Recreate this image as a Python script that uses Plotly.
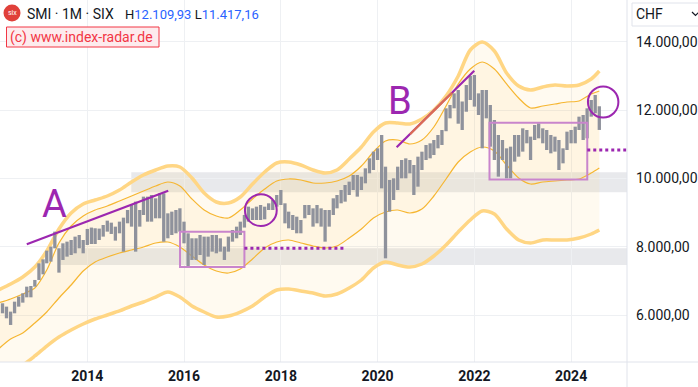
import plotly.graph_objects as go
import pandas as pd

# ---------------- DATA ----------------
bar_months = pd.date_range("2012-04-01", "2024-08-01", freq="MS").strftime("%Y-%m-%d").tolist()

bar_high = [
    # 2012 Apr-Dec
    6344, 6246, 6100, 6392, 6539, 6636, 6831, 6851, 7027,
    # 2013
    7514, 7631, 7885, 8002, 8441, 7953, 8099, 8148, 8197, 8295, 8343, 8197,
    # 2014
    8520, 8560, 8540, 8530, 8636, 8763, 8704, 8587, 8734, 8850, 9075, 9221,
    # 2015
    9319, 9075, 9465, 9465, 9514, 9416, 9562, 9562, 8977, 9026, 9075, 9124,
    # 2016
    8733, 8392, 8246, 8246, 8343, 8295, 8295, 8343, 8343, 8246, 8002, 8295,
    # 2017
    8490, 8587, 8733, 8930, 9172, 9123, 9172, 9221, 9172, 9270, 9367, 9513,
    # 2018
    9660, 9270, 9026, 8928, 8879, 8782, 9221, 9221, 9123, 9221, 9123, 9074,
    # 2019
    9074, 9416, 9513, 9660, 9806, 9904, 10099, 10099, 10050, 10294, 10587, 10782,
    # 2020
    10879, 11269, 10342, 9952, 10001, 10342, 10538, 10586, 10538, 10391, 10635, 10781,
    # 2021
    10976, 11025, 11123, 11269, 11415, 12050, 12147, 12488, 12586, 12250, 12732, 13000,
    # 2022
    13025, 12488, 12586, 12586, 12147, 11708, 11269, 11123, 10879, 10928, 11269, 11269,
    # 2023
    11464, 11416, 11221, 11562, 11611, 11464, 11416, 11269, 11221, 11123, 10879, 11367,
    # 2024 Jan-Aug
    11416, 11513, 11806, 11855, 12050, 12294, 12440, 12109.93,
]
bar_low = [
    6051, 5905, 5710, 6051, 6246, 6363, 6519, 6519, 6831,
    7027, 7192, 7514, 7563, 7953, 7241, 7612, 7709, 7758, 7807, 7953, 7807,
    8051, 8080, 8080, 8197, 8295, 8441, 8373, 8178, 8392, 7855, 8685, 8587,
    7855, 8587, 8928, 8733, 8733, 8831, 8831, 8148, 8246, 8343, 8392, 8441,
    8099, 7416, 7612, 7612, 7758, 7465, 7709, 7855, 7807, 7855, 7612, 7855,
    8148, 8246, 8343, 8560, 8733, 8782, 8782, 8782, 8801, 9074, 9074, 9172,
    9221, 8684, 8538, 8489, 8392, 8392, 8831, 8928, 8587, 8684, 8587, 8148,
    8587, 8928, 9123, 9270, 9318, 9513, 9660, 9465, 9660, 9855, 10148, 10245,
    10537, 9708, 7660, 9026, 9367, 9660, 10001, 10001, 10147, 9513, 9757, 10245,
    10538, 10586, 10684, 10879, 10976, 11380, 11757, 12050, 11600, 11415, 11950, 12293,
    12100, 11854, 10879, 11757, 10928, 10538, 10050, 10538, 10001, 10001, 10489, 10635,
    10782, 11026, 10538, 11123, 11172, 11026, 10830, 10733, 10782, 10245, 10440, 10830,
    11026, 11026, 11416, 11123, 11172, 11806, 11904, 11417.16,
]

band_months = [
    "2012-03-01", "2012-06-01", "2012-09-01", "2012-12-01",
    "2013-03-01", "2013-06-01", "2013-09-01", "2013-12-01",
    "2014-03-01", "2014-06-01", "2014-09-01", "2014-12-01",
    "2015-03-01", "2015-06-01", "2015-09-01", "2015-12-01",
    "2016-03-01", "2016-06-01", "2016-09-01", "2016-12-01",
    "2017-03-01", "2017-06-01", "2017-09-01", "2017-12-01",
    "2018-03-01", "2018-06-01", "2018-09-01", "2018-12-01",
    "2019-03-01", "2019-06-01", "2019-09-01", "2019-12-01",
    "2020-03-01", "2020-06-01", "2020-09-01", "2020-12-01",
    "2021-03-01", "2021-06-01", "2021-09-01", "2021-12-01",
    "2022-03-01", "2022-06-01", "2022-09-01", "2022-12-01",
    "2023-03-01", "2023-06-01", "2023-09-01", "2023-12-01",
    "2024-03-01", "2024-06-01", "2024-08-01",
]
outer_upper = [6733, 6909, 7114, 7406, 7874, 8518, 8987, 9250, 9367, 9484, 9660, 9894, 10099,
               10245, 10362, 10333, 10011, 9572, 9308, 9279, 9455, 9835, 10186, 10450, 10479,
               10391, 10245, 10157, 10245, 10567, 10918, 11357, 11620, 11620, 11591, 11737,
               12001, 12411, 12996, 13757, 13991, 13727, 13084, 12703, 12586, 12674, 12732,
               12703, 12732, 12908, 13142]
inner_upper = [6353, 6470, 6616, 6792, 7318, 8109, 8606, 8899, 9074, 9191, 9338, 9484, 9630,
               9777, 9894, 9777, 9396, 9074, 8899, 8840, 9074, 9396, 9689, 9923, 9982, 9952,
               9865, 9865, 9923, 10069, 10362, 10772, 11094, 11123, 11006, 11123, 11503, 12118,
               12762, 13201, 13406, 13201, 12762, 12352, 12059, 12118, 12176, 12235, 12264,
               12469, 12557]
inner_lower = [5007, 5299, 5475, 5767, 6089, 6499, 6879, 7289, 7553, 7699, 7816, 7904, 7992,
               8109, 8138, 7992, 7728, 7465, 7289, 7231, 7348, 7640, 7962, 8138, 8196, 8109,
               8021, 7962, 8021, 8255, 8518, 8840, 9016, 9074, 8987, 9104, 9484, 9982, 10479,
               10772, 10918, 10801, 10391, 10011, 9835, 9894, 9923, 9952, 9982, 10157, 10303]
outer_lower = [4158, 4363, 4538, 4802, 5094, 5358, 5563, 5738, 5884, 6002, 6119, 6265, 6382,
               6528, 6675, 6528, 6265, 6089, 5943, 5972, 6089, 6265, 6528, 6733, 6762, 6704,
               6645, 6558, 6616, 6792, 7026, 7377, 7553, 7465, 7406, 7494, 7728, 8050, 8431,
               8782, 9045, 8957, 8518, 8196, 8109, 8196, 8196, 8196, 8255, 8372, 8489]

# support / resistance zones (value ranges) and where they start
zone_upper_range = [9592, 10178]
zone_upper_start = "2014-11-29"
zone_lower_range = [7465, 7954]
zone_lower_start = "2013-05-25"

# drawings (dates, values)
line_a = [("2012-10-01", 8071), ("2015-09-04", 9639)]
line_b = [("2020-05-24", 10909), ("2021-12-31", 13151)]
line_b_orange = [("2020-09-02", 11293), ("2021-07-16", 12507)]
rect_1 = [("2015-12-02", 7406), ("2017-04-01", 8439)]
rect_2 = [("2022-04-25", 9964), ("2024-05-02", 11626)]
circle_1 = [("2017-04-05", 8606), ("2017-12-01", 9534)]
circle_2 = [("2024-05-07", 11781), ("2024-12-23", 12689)]
dotted_1 = [("2017-04-01", 7954), ("2019-04-30", 7954)]
dotted_2 = [("2024-05-02", 10830), ("2025-02-26", 10830)]
label_a = ("2013-04-25", 9250)
label_b = ("2020-06-16", 12273)

x_ticks = ["2014-01-01", "2016-01-01", "2018-01-01", "2020-01-01", "2022-01-01", "2024-01-01"]
x_tick_labels = ["2014", "2016", "2018", "2020", "2022", "2024"]
y_ticks = [6000, 8000, 10000, 12000, 14000]
y_tick_labels = ["6.000,00", "8.000,00", "10.000,00", "12.000,00", "14.000,00"]

x_range = ["2012-03-13", "2025-02-26"]
y_range = [4626, 15220]

# ---------------- LAYOUT HELPERS ----------------
W, H = 698, 387
ML, MR, MT, MB = 0, 71, 0, 25
PW, PH = W - ML - MR, H - MT - MB


def px(x):
    return x / PW


def py(y):
    return 1 - y / PH


FONT = "Roboto"
TXT = "#131722"
PURPLE = "#9c27b0"
THICK = "#ffd684"
THIN = "#f6b631"

fig = go.Figure()

# band fills + lines
fig.add_trace(go.Scatter(x=band_months, y=outer_lower, mode="lines",
                         line=dict(color=THICK, width=3.5, shape="spline", smoothing=0.8),
                         hoverinfo="skip", showlegend=False))
fig.add_trace(go.Scatter(x=band_months, y=outer_upper, mode="lines", fill="tonexty",
                         fillcolor="rgba(255,205,90,0.09)",
                         line=dict(color=THICK, width=3.5, shape="spline", smoothing=0.8),
                         hoverinfo="skip", showlegend=False))
fig.add_trace(go.Scatter(x=band_months, y=inner_lower, mode="lines",
                         line=dict(color=THIN, width=1.2, shape="spline", smoothing=0.8),
                         hoverinfo="skip", showlegend=False))
fig.add_trace(go.Scatter(x=band_months, y=inner_upper, mode="lines", fill="tonexty",
                         fillcolor="rgba(255,205,90,0.09)",
                         line=dict(color=THIN, width=1.2, shape="spline", smoothing=0.8),
                         hoverinfo="skip", showlegend=False))

# high-low bars
bx, by = [], []
for m, hi, lo in zip(bar_months, bar_high, bar_low):
    bx += [m, m, None]
    by += [lo, hi, None]
fig.add_trace(go.Scatter(x=bx, y=by, mode="lines", line=dict(color="#8f929c", width=3.3),
                         hoverinfo="skip", showlegend=False, connectgaps=False))

shapes = []
# zones
shapes.append(dict(type="rect", xref="x", yref="y", x0=zone_upper_start, x1="2026-01-01",
                   y0=zone_upper_range[0], y1=zone_upper_range[1], layer="below",
                   fillcolor="rgba(140,145,158,0.2)", line=dict(width=0)))
shapes.append(dict(type="rect", xref="x", yref="y", x0=zone_lower_start, x1="2026-01-01",
                   y0=zone_lower_range[0], y1=zone_lower_range[1], layer="below",
                   fillcolor="rgba(140,145,158,0.2)", line=dict(width=0)))

# drawings
for seg, col, w in [(line_a, PURPLE, 2.2), (line_b, PURPLE, 2.2), (line_b_orange, "rgba(235,125,60,0.8)", 2.2)]:
    shapes.append(dict(type="line", xref="x", yref="y", x0=seg[0][0], y0=seg[0][1],
                       x1=seg[1][0], y1=seg[1][1], line=dict(color=col, width=w)))
for r in (rect_1, rect_2):
    shapes.append(dict(type="rect", xref="x", yref="y", x0=r[0][0], y0=r[0][1],
                       x1=r[1][0], y1=r[1][1], line=dict(color="#c985cc", width=2)))
for c in (circle_1, circle_2):
    shapes.append(dict(type="circle", xref="x", yref="y", x0=c[0][0], y0=c[0][1],
                       x1=c[1][0], y1=c[1][1], line=dict(color=PURPLE, width=2)))
for d in (dotted_1, dotted_2):
    shapes.append(dict(type="line", xref="x", yref="y", x0=d[0][0], y0=d[0][1],
                       x1=d[1][0], y1=d[1][1], line=dict(color=PURPLE, width=3, dash="dot")))

# frame lines
shapes.append(dict(type="line", xref="paper", yref="paper", x0=0, x1=W / PW, y0=0, y1=0,
                   line=dict(color="#e0e3eb", width=1)))
shapes.append(dict(type="line", xref="paper", yref="paper", x0=1, x1=1, y0=py(H), y1=1,
                   line=dict(color="#e0e3eb", width=1)))
# CHF box + chevron
shapes.append(dict(type="rect", xref="paper", yref="paper", x0=px(632), x1=px(720),
                   y0=py(26), y1=py(3), line=dict(color="#e0e3eb", width=1), fillcolor="white"))
shapes.append(dict(type="path", xref="paper", yref="paper",
                   path=f"M {px(692)} {py(12)} L {px(695.5)} {py(15.5)} L {px(699)} {py(12)}",
                   line=dict(color=TXT, width=1.2)))
# logo
shapes.append(dict(type="circle", xref="paper", yref="paper", x0=px(3.5), x1=px(20.5),
                   y0=py(21.5), y1=py(4.5), line=dict(width=0), fillcolor="#e0403a"))
# watermark box
shapes.append(dict(type="rect", xref="paper", yref="paper", x0=px(6.5), x1=px(159),
                   y0=py(47), y1=py(27), line=dict(color="#f23645", width=1), fillcolor="#fdebed"))

annotations = [
    dict(xref="x", yref="y", x=label_a[0], y=label_a[1], text="A", showarrow=False,
         font=dict(family=FONT, size=38, color=PURPLE)),
    dict(xref="x", yref="y", x=label_b[0], y=label_b[1], text="B", showarrow=False,
         font=dict(family=FONT, size=38, color=PURPLE)),
    dict(xref="paper", yref="paper", x=px(25), y=py(14), xanchor="left", yanchor="middle",
         text="SMI · 1M · SIX", showarrow=False, font=dict(family=FONT, size=14, color=TXT)),
    dict(xref="paper", yref="paper", x=px(123), y=py(14), xanchor="left", yanchor="middle",
         text="H<span style='color:#2962ff'>12.109,93</span> L<span style='color:#2962ff'>11.417,16</span>",
         showarrow=False, font=dict(family=FONT, size=13, color=TXT)),
    dict(xref="paper", yref="paper", x=px(8), y=py(37), xanchor="left", yanchor="middle",
         text="(c) www.index-radar.de", showarrow=False,
         font=dict(family=FONT, size=14, color="#f23645")),
    dict(xref="paper", yref="paper", x=px(634), y=py(14.5), xanchor="left", yanchor="middle",
         text="CHF", showarrow=False, font=dict(family=FONT, size=14, color=TXT)),
    dict(xref="paper", yref="paper", x=px(12), y=py(13), xanchor="center", yanchor="middle",
         text="six", showarrow=False, font=dict(family=FONT, size=7, color="white")),
]

fig.update_layout(
    width=W, height=H,
    margin=dict(l=ML, r=MR, t=MT, b=MB, pad=0),
    paper_bgcolor="white", plot_bgcolor="white",
    shapes=shapes, annotations=annotations,
    showlegend=False,
    xaxis=dict(type="date", range=x_range, tickvals=x_ticks, ticktext=x_tick_labels,
               showgrid=True, gridcolor="#eef0f3", gridwidth=1, zeroline=False, showline=False,
               ticks="", ticklabelstandoff=4,
               tickfont=dict(family=FONT, size=14, color=TXT, weight="bold"), fixedrange=True),
    yaxis=dict(range=y_range, side="right", tickvals=y_ticks, ticktext=y_tick_labels,
               showgrid=True, gridcolor="#eef0f3", gridwidth=1, zeroline=False, showline=False,
               ticks="", ticklabelstandoff=8,
               tickfont=dict(family=FONT, size=14, color=TXT), fixedrange=True),
)

fig.write_html("out.html", config={"displayModeBar": False},
               post_script="document.body.style.margin='0';document.body.style.padding='0';")
